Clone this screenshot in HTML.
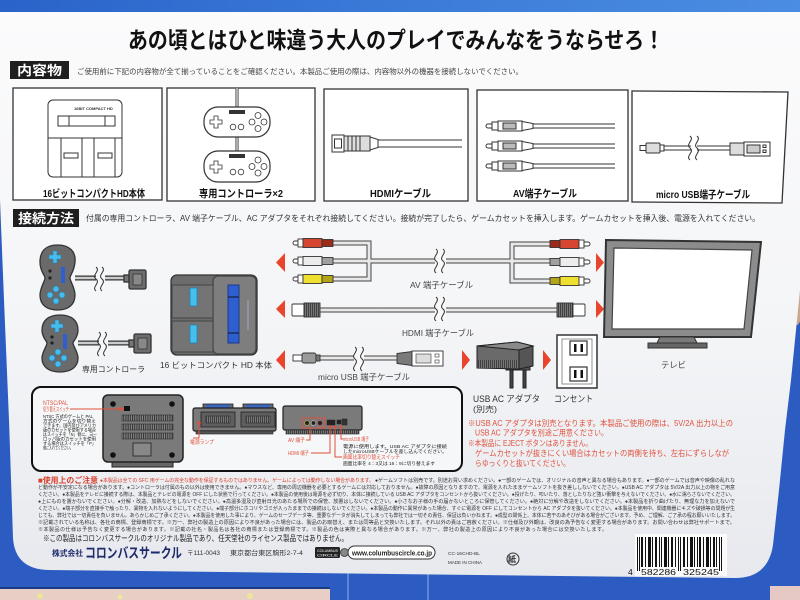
<!DOCTYPE html>
<html><head><meta charset="utf-8">
<style>
html,body{margin:0;padding:0;width:800px;height:600px;overflow:hidden;background:#2c5cc2}
svg{display:block}
svg text{font-family:"Liberation Sans","Noto Sans CJK JP",sans-serif}
</style></head>
<body>
<svg width="800" height="600" viewBox="0 0 800 600" xmlns="http://www.w3.org/2000/svg">
<defs>
<linearGradient id="topg" x1="0" y1="0" x2="1" y2="0"><stop offset="0" stop-color="#2a63c9"/><stop offset="0.5" stop-color="#3b7bd8"/><stop offset="1" stop-color="#4b8de2"/></linearGradient>
<linearGradient id="pg" x1="0" y1="0" x2="0" y2="1"><stop offset="0" stop-color="#fbfbfc"/><stop offset="0.55" stop-color="#f4f5f7"/><stop offset="1" stop-color="#e7e9ee"/></linearGradient>
<pattern id="vent" width="2.2" height="8" patternUnits="userSpaceOnUse"><rect width="2.2" height="8" fill="#8a8a8a"/><rect width="1.1" height="8" fill="#333"/></pattern>
<pattern id="rib" width="2" height="8" patternUnits="userSpaceOnUse"><rect width="2" height="8" fill="#777"/><rect width="0.8" height="8" fill="#333"/></pattern>
</defs>

<!-- background / box -->
<rect width="800" height="600" fill="#2c5cc2"/>
<rect x="0" y="588" width="330" height="12" fill="#e8cfc6"/>
<rect x="0" y="587" width="330" height="2" fill="#1c3b84"/>
<circle cx="40" cy="596" r="3" fill="#efe39a"/><circle cx="120" cy="597" r="2.5" fill="#f1e6a0"/><circle cx="250" cy="596" r="3" fill="#efe39a"/>
<line x1="348" y1="572" x2="348" y2="600" stroke="#8fb0ea" stroke-width="1"/>
<line x1="428" y1="574" x2="428" y2="600" stroke="#8fb0ea" stroke-width="1"/>
<rect x="770" y="586" width="30" height="14" fill="#e6c8c4"/>
<ellipse cx="797" cy="305" rx="5" ry="20" fill="#c9a98e"/>
<rect x="0" y="0" width="800" height="12" fill="url(#topg)"/>
<path d="M0,12 H800 V290 L791,380 L785,430 L779,490 L773,545 Q768,578 735,578 L48,570 Q15,569 13,538 L9,420 L4,300 L0,200 Z" fill="url(#pg)"/>

<!-- Title -->
<text x="128" y="48" font-size="23" font-weight="700" fill="#111" textLength="536" lengthAdjust="spacingAndGlyphs">あの頃とはひと味違う大人のプレイでみんなをうならせろ！</text>

<!-- 内容物 -->
<rect x="10" y="61" width="59" height="18" fill="#1f1f1f"/>
<text x="17" y="75" font-size="13" font-weight="700" fill="#fff" textLength="45" lengthAdjust="spacingAndGlyphs">内容物</text>
<text x="77" y="74" font-size="7.5" fill="#444" textLength="446" lengthAdjust="spacingAndGlyphs">ご使用前に下記の内容物が全て揃っていることをご確認ください。本製品ご使用の際は、内容物以外の機器を接続しないでください。</text>

<g fill="#fff" stroke="#333" stroke-width="1.3">
<rect x="13" y="88" width="149" height="112"/>
<rect x="167" y="88" width="148" height="113"/>
<rect x="324" y="89" width="144" height="112"/>
<rect x="477" y="90" width="151" height="111"/>
<polygon points="632,91 788,92 782,203 632,202"/>
</g>

<!-- Box1 console -->
<g stroke="#333" stroke-width="1" fill="none">
<rect x="48" y="100" width="74" height="77" rx="5" fill="#fff"/>
<rect x="58" y="116" width="57" height="10"/>
<line x1="69" y1="116" x2="69" y2="126"/><line x1="105" y1="116" x2="105" y2="126"/>
<line x1="48" y1="138" x2="122" y2="138"/>
<line x1="61" y1="138" x2="61" y2="177"/><line x1="82" y1="138" x2="82" y2="177"/>
<line x1="94" y1="138" x2="94" y2="177"/><line x1="115" y1="138" x2="115" y2="177"/>
<rect x="64" y="153" width="14" height="5"/><rect x="98" y="153" width="14" height="5"/>
</g>
<text x="74" y="110" font-size="4" font-weight="700" fill="#333">16BIT COMPACT HD</text>

<!-- Box2 controllers -->
<g stroke="#333" fill="#fff">
<line x1="237" y1="88" x2="237" y2="151" stroke-width="3"/>
<line x1="237" y1="88" x2="237" y2="151" stroke="#fff" stroke-width="1.2"/>
<rect x="204" y="107" width="66" height="30" rx="14" stroke-width="1.2"/>
<path d="M214,116 h4 v4 h4 v4 h-4 v4 h-4 v-4 h-4 v-4 h4 z" stroke-width="0.8"/>
<rect x="229" y="110" width="16" height="4" fill="#333" stroke="none"/>
<circle cx="233" cy="127" r="2.8" stroke-width="0.8"/><circle cx="241" cy="127" r="2.8" stroke-width="0.8"/>
<circle cx="258" cy="115.5" r="3" stroke-width="0.8"/><circle cx="252" cy="122" r="3" stroke-width="0.8"/><circle cx="264" cy="122" r="3" stroke-width="0.8"/><circle cx="258" cy="128.5" r="3" stroke-width="0.8"/>
<rect x="204" y="151" width="66" height="31" rx="14" stroke-width="1.2"/>
<path d="M214,161 h4 v4 h4 v4 h-4 v4 h-4 v-4 h-4 v-4 h4 z" stroke-width="0.8"/>
<rect x="229" y="154" width="16" height="4" fill="#333" stroke="none"/>
<circle cx="233" cy="172" r="2.8" stroke-width="0.8"/><circle cx="241" cy="172" r="2.8" stroke-width="0.8"/>
<circle cx="258" cy="160" r="3" stroke-width="0.8"/><circle cx="252" cy="166.5" r="3" stroke-width="0.8"/><circle cx="264" cy="166.5" r="3" stroke-width="0.8"/><circle cx="258" cy="173" r="3" stroke-width="0.8"/>
</g>

<!-- Box3 HDMI -->
<g stroke="#333" fill="#fff" stroke-width="1">
<line x1="378" y1="140" x2="462" y2="140"/><line x1="378" y1="147" x2="462" y2="147"/>
<rect x="332" y="135" width="12" height="17"/>
<rect x="334.5" y="139" width="7" height="9"/>
<rect x="344" y="136" width="26" height="15" fill="#ddd"/>
<line x1="348" y1="136" x2="348" y2="151"/><line x1="352" y1="136" x2="352" y2="151"/><line x1="356" y1="136" x2="356" y2="151"/><line x1="360" y1="136" x2="360" y2="151"/>
<polygon points="370,137 378,139.5 378,147.5 370,150"/>
</g>

<!-- Box4 RCA -->
<g stroke="#333" fill="#fff" stroke-width="1">
<line x1="533" y1="124" x2="615" y2="124"/><line x1="533" y1="128" x2="615" y2="128"/>
<line x1="533" y1="144" x2="615" y2="144"/><line x1="533" y1="148" x2="615" y2="148"/>
<line x1="533" y1="164" x2="615" y2="164"/><line x1="533" y1="168" x2="615" y2="168"/>
<path d="M492,124 h-4 a2,2 0 0 0 0,4 h4 z"/><rect x="492" y="122" width="6" height="8"/><rect x="498" y="121" width="24" height="10"/><rect x="503" y="123" width="13" height="6" fill="#bbb"/><polygon points="522,121.5 533,123.5 533,128.5 522,130.5"/>
<path d="M492,144 h-4 a2,2 0 0 0 0,4 h4 z"/><rect x="492" y="142" width="6" height="8"/><rect x="498" y="141" width="24" height="10"/><rect x="503" y="143" width="13" height="6" fill="#bbb"/><polygon points="522,141.5 533,143.5 533,148.5 522,150.5"/>
<path d="M492,164 h-4 a2,2 0 0 0 0,4 h4 z"/><rect x="492" y="162" width="6" height="8"/><rect x="498" y="161" width="24" height="10"/><rect x="503" y="163" width="13" height="6" fill="#bbb"/><polygon points="522,161.5 533,163.5 533,168.5 522,170.5"/>
</g>

<!-- Box5 micro USB -->
<g stroke="#333" fill="#fff" stroke-width="1">
<line x1="664" y1="146" x2="691" y2="146"/><line x1="664" y1="150" x2="691" y2="150"/>
<line x1="697" y1="146" x2="730" y2="146"/><line x1="697" y1="150" x2="730" y2="150"/>
<path d="M690,136 c5,4 -5,8 0,12 c5,4 -5,8 0,12" fill="none"/>
<path d="M697,136 c5,4 -5,8 0,12 c5,4 -5,8 0,12" fill="none"/>
<rect x="640" y="145.5" width="6" height="5"/>
<rect x="646" y="143" width="14" height="10" rx="1" fill="#ddd"/>
<rect x="660" y="145" width="4" height="6"/>
<rect x="730" y="143" width="14" height="12" fill="#ddd"/>
<rect x="744" y="142" width="26" height="14"/>
<rect x="747" y="145" width="13" height="8" fill="#ccc"/>
<rect x="763" y="145" width="3" height="2.5"/><rect x="763" y="150" width="3" height="2.5"/>
</g>

<!-- item labels -->
<g font-size="10.5" font-weight="700" fill="#111">
<text x="43" y="197" textLength="102" lengthAdjust="spacingAndGlyphs">16ビットコンパクトHD本体</text>
<text x="199" y="197" textLength="84" lengthAdjust="spacingAndGlyphs">専用コントローラ×2</text>
<text x="370" y="197" textLength="61" lengthAdjust="spacingAndGlyphs">HDMIケーブル</text>
<text x="513" y="197" textLength="64" lengthAdjust="spacingAndGlyphs">AV端子ケーブル</text>
<text x="656" y="198" textLength="94" lengthAdjust="spacingAndGlyphs">micro USB端子ケーブル</text>
</g>

<!-- 接続方法 -->
<rect x="13" y="209" width="66" height="18" fill="#1f1f1f"/>
<text x="18" y="223" font-size="13" font-weight="700" fill="#fff" textLength="56" lengthAdjust="spacingAndGlyphs">接続方法</text>
<text x="86" y="221" font-size="8" fill="#333" textLength="674" lengthAdjust="spacingAndGlyphs">付属の専用コントローラ、AV 端子ケーブル、AC アダプタをそれぞれ接続してください。接続が完了したら、ゲームカセットを挿入します。ゲームカセットを挿入後、電源を入れてください。</text>

<!-- Controllers (connection) -->
<g stroke="#333" stroke-width="1.3">
<path d="M75,278 H128 M78,343 H133" stroke="#333" stroke-width="5" fill="none"/>
<path d="M75,278 H128 M78,343 H133" stroke="#ccc" stroke-width="2.5" fill="none"/>
<rect x="96" y="266" width="9" height="24" fill="#f6f7f9" stroke="none"/>
<rect x="99" y="331" width="9" height="24" fill="#f6f7f9" stroke="none"/>
<path d="M96,267 c5,4 -5,8 0,12 c5,4 -5,8 0,12 M102,267 c5,4 -5,8 0,12 c5,4 -5,8 0,12" fill="none" stroke-width="1"/>
<path d="M99,332 c5,4 -5,8 0,12 c5,4 -5,8 0,12 M105,332 c5,4 -5,8 0,12 c5,4 -5,8 0,12" fill="none" stroke-width="1"/>
<rect x="124" y="275" width="6" height="7" fill="#777"/>
<rect x="129" y="270" width="17" height="19" rx="1.5" fill="#6d6d6d"/>
<rect x="133" y="274" width="9" height="11" fill="#888" stroke-width="0.8"/>
<rect x="129" y="340" width="6" height="7" fill="#777"/>
<rect x="134" y="334" width="17" height="19" rx="1.5" fill="#6d6d6d"/>
<rect x="138" y="338" width="9" height="11" fill="#888" stroke-width="0.8"/>
<path d="M57.5,245 C70,245 76,252 75,262 C74,272 70,275 70,278 C70,281 75,288 75,295 C75,305 68,310 57.5,310 C47,310 40,305 40,295 C40,288 45,281 45,278 C45,275 40,272 40,262 C40,252 45,245 57.5,245 Z" fill="#6a6a6a"/>
<path d="M60,315 C72,315 78,321 78,330 C78,338 73,341 73,343 C73,346 78,352 78,358 C78,367 71,372 60,372 C49,372 42,367 42,358 C42,352 47,346 47,343 C47,341 42,338 42,330 C42,321 48,315 60,315 Z" fill="#6a6a6a"/>
</g>
<g fill="#44bdee" stroke="#2a7fb0" stroke-width="0.6">
<path d="M53,251 h4 v4 h4 v4 h-4 v4 h-4 v-4 h-4 v-4 h4 z"/>
<circle cx="56" cy="289" r="3"/><circle cx="50" cy="295" r="3"/><circle cx="62" cy="295" r="3"/><circle cx="56" cy="301" r="3"/>
<path d="M55,320 h4 v4 h4 v4 h-4 v4 h-4 v-4 h-4 v-4 h4 z"/>
<circle cx="58" cy="352" r="3"/><circle cx="52" cy="358" r="3"/><circle cx="64" cy="358" r="3"/><circle cx="58" cy="364" r="3"/>
</g>
<g fill="#222">
<circle cx="50" cy="271" r="1.6"/><circle cx="50" cy="278" r="1.6"/><rect x="61" y="267" width="4" height="16" fill="#2f5fcf"/>
<circle cx="52" cy="337" r="1.6"/><circle cx="52" cy="343" r="1.6"/><rect x="63" y="334" width="4" height="15" fill="#2f5fcf"/>
</g>
<text x="82" y="372" font-size="8" fill="#333" textLength="63" lengthAdjust="spacingAndGlyphs">専用コントローラ</text>

<!-- Main console -->
<g stroke="#333" stroke-width="1.3">
<rect x="171" y="275" width="86" height="80" rx="6" fill="#6c6c6c"/>
<rect x="213" y="276" width="43" height="78" rx="5" fill="#7e7e7e" stroke="#444"/>
<rect x="172" y="285" width="41" height="33" fill="#747474" stroke="#444" stroke-width="1"/>
<rect x="172" y="321" width="41" height="31" fill="#747474" stroke="#444" stroke-width="1"/>
<rect x="190" y="288" width="7" height="18" fill="#45c0ee" stroke="#2a7fb0" stroke-width="0.8"/>
<rect x="190" y="325" width="7" height="18" fill="#45c0ee" stroke="#2a7fb0" stroke-width="0.8"/>
<rect x="228" y="285" width="11" height="58" fill="#2f5fcf" stroke="#1a3a8a" stroke-width="1"/>
<line x1="228" y1="297" x2="239" y2="297" stroke="#1a2a60" stroke-width="1.5"/>
<line x1="228" y1="333" x2="239" y2="333" stroke="#1a2a60" stroke-width="1.5"/>
<line x1="248" y1="300" x2="248" y2="330" stroke="#99a" stroke-width="1.5"/>
</g>
<text x="160" y="368" font-size="8" fill="#333" textLength="112" lengthAdjust="spacingAndGlyphs">16 ビットコンパクト HD 本体</text>

<!-- Red arrows -->
<g fill="#e8452c">
<polygon points="285,253 285,272 276,262.5"/><polygon points="596,253 596,272 604,262.5"/>
<polygon points="285,300 285,318 276,309"/><polygon points="596,300 596,318 604,309"/>
<polygon points="285,350 285,370 276,360"/><polygon points="462,350 462,370 470,360"/>
<polygon points="543,350 543,370 551,360"/>
</g>

<!-- cables -->
<g fill="none" stroke-linejoin="miter">
<path d="M333,243 H369 V261 M333,279 H369 V261 M333,261 H550 M512,261 V244 H550 M512,261 V281 H550 M320,310 H557 M320,358 H397" stroke="#444" stroke-width="5"/>
<path d="M333,243 H369 V261 M333,279 H369 V261 M333,261 H550 M512,261 V244 H550 M512,261 V281 H550 M320,310 H557 M320,358 H397" stroke="#e8e8e8" stroke-width="3"/>
</g>
<rect x="435" y="250" width="11" height="22" fill="#f8f8f9"/>
<rect x="435" y="298" width="11" height="24" fill="#f8f8f9"/>
<rect x="354" y="348" width="10" height="22" fill="#f8f8f9"/>
<g fill="none" stroke="#333" stroke-width="1">
<path d="M436,249 c5,4 -5,8 0,12 c5,4 -5,8 0,12 M443,249 c5,4 -5,8 0,12 c5,4 -5,8 0,12"/>
<path d="M436,297 c5,4 -5,8 0,12 c5,4 -5,8 0,12 M443,297 c5,4 -5,8 0,12 c5,4 -5,8 0,12"/>
<path d="M355,347 c5,4 -5,8 0,12 c5,4 -5,8 0,12 M362,347 c5,4 -5,8 0,12 c5,4 -5,8 0,12"/>
</g>

<!-- RCA left -->
<g stroke="#333" stroke-width="0.9">
<path d="M299,241 h-4 a2,2 0 0 0 0,4 h4 z" fill="#fff"/><rect x="298" y="239" width="5" height="8" fill="#fff"/><rect x="303" y="238.5" width="19" height="9" fill="#d54530"/><rect x="322" y="239.5" width="11" height="7" fill="#9e2a1a"/>
<path d="M299,259 h-4 a2,2 0 0 0 0,4 h4 z" fill="#fff"/><rect x="298" y="257" width="5" height="8" fill="#fff"/><rect x="303" y="256.5" width="19" height="9" fill="#ececec"/><rect x="322" y="257.5" width="11" height="7" fill="#a0a0a0"/>
<path d="M299,277 h-4 a2,2 0 0 0 0,4 h4 z" fill="#fff"/><rect x="298" y="275" width="5" height="8" fill="#fff"/><rect x="303" y="274.5" width="19" height="9" fill="#efe030"/><rect x="322" y="275.5" width="11" height="7" fill="#b4a418"/>
<!-- RCA right -->
<rect x="550" y="240.5" width="10" height="7" fill="#9e2a1a"/><rect x="560" y="239.5" width="19" height="9" fill="#d54530"/><rect x="579" y="240" width="5" height="8" fill="#fff"/><path d="M584,242 h4 a2,2 0 0 1 0,4 h-4 z" fill="#fff"/>
<rect x="550" y="258.5" width="10" height="7" fill="#a0a0a0"/><rect x="560" y="257.5" width="19" height="9" fill="#ececec"/><rect x="579" y="258" width="5" height="8" fill="#fff"/><path d="M584,260 h4 a2,2 0 0 1 0,4 h-4 z" fill="#fff"/>
<rect x="550" y="277.5" width="10" height="7" fill="#b4a418"/><rect x="560" y="276.5" width="19" height="9" fill="#efe030"/><rect x="579" y="277" width="5" height="8" fill="#fff"/><path d="M584,279 h4 a2,2 0 0 1 0,4 h-4 z" fill="#fff"/>
<!-- HDMI -->
<rect x="292" y="304" width="12" height="12" rx="1" fill="#fff"/><rect x="304" y="303" width="16" height="14" fill="url(#rib)"/>
<rect x="557" y="303" width="16" height="14" fill="url(#rib)"/><rect x="573" y="304" width="12" height="12" rx="1" fill="#fff"/>
<!-- micro usb -->
<rect x="293" y="355" width="9" height="6" fill="#fff"/><rect x="302" y="353" width="14" height="10" rx="2" fill="#9a9a9a"/><rect x="316" y="355" width="4" height="6" fill="#777"/>
<!-- usb A -->
<polygon points="397,353.5 412,351.5 412,365.5 397,363.5" fill="#7a7a7a"/>
<rect x="412" y="351" width="31" height="15" fill="#fff"/>
<rect x="416" y="354" width="15" height="9" fill="#ddd" stroke-width="0.6"/>
<rect x="435" y="354" width="4" height="3" fill="#fff" stroke-width="0.6"/><rect x="435" y="360" width="4" height="3" fill="#fff" stroke-width="0.6"/>
</g>
<text x="410" y="288" font-size="8.5" fill="#444" textLength="63" lengthAdjust="spacingAndGlyphs">AV 端子ケーブル</text>
<text x="402" y="336" font-size="8.5" fill="#444" textLength="72" lengthAdjust="spacingAndGlyphs">HDMI 端子ケーブル</text>
<text x="318" y="380" font-size="8.5" fill="#444" textLength="92" lengthAdjust="spacingAndGlyphs">micro USB 端子ケーブル</text>

<!-- AC adapter -->
<g stroke="#222" stroke-width="1">
<rect x="510" y="366" width="3" height="22" fill="#444"/><rect x="523" y="366" width="3" height="22" fill="#444"/>
<rect x="506" y="366" width="24" height="4" fill="#555"/>
<polygon points="477,346 517,342 533,346 533,366 519,369 477,368" fill="#6a6a6a"/>
<polygon points="477,346 517,342 533,346 519,350" fill="#8a8a8a"/>
<polygon points="519,350 533,346 533,366 519,369" fill="#555"/>
<rect x="478" y="360" width="41" height="8" fill="url(#rib)" stroke="none"/>
</g>
<!-- outlet -->
<g stroke="#333">
<rect x="557" y="335" width="40" height="53" fill="#fff" stroke-width="1.5"/>
<rect x="562" y="339" width="30" height="45" fill="#fff" stroke="#777" stroke-width="0.8"/>
<rect x="570" y="341" width="17" height="14" fill="#fff" stroke-width="1.2"/>
<rect x="570" y="367" width="17" height="14" fill="#fff" stroke-width="1.2"/>
</g>
<g fill="#111">
<rect x="574" y="344" width="2.5" height="8"/><rect x="580.5" y="344" width="2.5" height="8"/>
<rect x="574" y="370" width="2.5" height="8"/><rect x="580.5" y="370" width="2.5" height="8"/>
</g>

<!-- TV -->
<polygon points="606,240 761,242 751,337 604,337" fill="#8c8c8c" stroke="#333" stroke-width="2"/>
<polygon points="614,248 752,250 744,329 612,329" fill="#fff" stroke="#444" stroke-width="1.2"/>
<polygon points="660,337 694,337 697,343 657,343" fill="#7a7a7a" stroke="#333"/>
<rect x="648" y="343" width="59" height="5" fill="#666" stroke="#333"/>
<text x="661" y="368" font-size="8.5" fill="#444" textLength="25" lengthAdjust="spacingAndGlyphs">テレビ</text>

<!-- labels adapter -->
<text x="473" y="402" font-size="9" fill="#333" textLength="67" lengthAdjust="spacingAndGlyphs">USB AC アダプタ</text>
<text x="473" y="412" font-size="8" fill="#333" textLength="24" lengthAdjust="spacingAndGlyphs">(別売)</text>
<text x="554" y="402" font-size="9" fill="#333" textLength="39" lengthAdjust="spacingAndGlyphs">コンセント</text>

<g font-size="8" fill="#e0503c">
<text x="468" y="426" textLength="265" lengthAdjust="spacingAndGlyphs">※USB AC アダプタは別売となります。本製品ご使用の際は、5V/2A 出力以上の</text>
<text x="475" y="435.5" textLength="133" lengthAdjust="spacingAndGlyphs">USB AC アダプタを別途ご用意ください。</text>
<text x="468" y="446" textLength="124" lengthAdjust="spacingAndGlyphs">※本製品に EJECT ボタンはありません。</text>
<text x="475" y="456" textLength="254" lengthAdjust="spacingAndGlyphs">ゲームカセットが抜きにくい場合はカセットの両側を持ち、左右にずらしなが</text>
<text x="475" y="466" textLength="95" lengthAdjust="spacingAndGlyphs">らゆっくりと抜いてください。</text>
</g>

<!-- Bottom detail box -->
<rect x="32" y="387" width="430" height="84" rx="9" fill="#f6f7f8" stroke="#111" stroke-width="2"/>
<!-- back console -->
<g stroke="#222">
<rect x="112" y="460" width="61" height="7" fill="#666" stroke-width="1"/>
<rect x="103" y="395" width="80" height="67" rx="5" fill="#7a7a7a" stroke-width="1.5"/>
<rect x="122" y="415" width="51" height="6" fill="url(#vent)" stroke-width="0.5"/>
<rect x="122" y="424" width="51" height="6" fill="url(#vent)" stroke-width="0.5"/>
<rect x="122" y="433" width="51" height="6" fill="url(#vent)" stroke-width="0.5"/>
<rect x="133" y="443" width="18" height="13" fill="#888" stroke-width="0.8"/>
</g>
<g fill="#111"><circle cx="113" cy="404" r="2.8"/><circle cx="172" cy="404" r="2.8"/><circle cx="113" cy="455" r="2.8"/><circle cx="172" cy="455" r="2.8"/><rect x="124" y="406" width="6" height="5"/></g>
<line x1="70" y1="409" x2="121" y2="409" stroke="#e0503c" stroke-width="1"/><circle cx="121" cy="409" r="2" fill="#e0503c"/>
<text x="43" y="405" font-size="6" fill="#e0503c" textLength="25" lengthAdjust="spacingAndGlyphs">NTSC/PAL</text>
<text x="43" y="411.5" font-size="6" fill="#e0503c" textLength="26" lengthAdjust="spacingAndGlyphs">切り替えスイッチ</text>
<g font-size="4.5" fill="#222">
<text x="43" y="418" textLength="50" lengthAdjust="spacingAndGlyphs">NTSC 方式のゲームと PAL</text>
<text x="43" y="422.5" textLength="53" lengthAdjust="spacingAndGlyphs">方式のゲームを切り替え</text>
<text x="43" y="427" textLength="53" lengthAdjust="spacingAndGlyphs">できます。国内及びアメリカ</text>
<text x="43" y="431.5" textLength="53" lengthAdjust="spacingAndGlyphs">版のカセットを使用する場合</text>
<text x="43" y="436" textLength="54" lengthAdjust="spacingAndGlyphs">はスイッチを「N」側に、ヨー</text>
<text x="43" y="440.5" textLength="53" lengthAdjust="spacingAndGlyphs">ロッパ版のカセットを使用</text>
<text x="43" y="445" textLength="53" lengthAdjust="spacingAndGlyphs">する場合はスイッチを「P」</text>
<text x="43" y="449.5" textLength="30" lengthAdjust="spacingAndGlyphs">側に入れてください。</text>
</g>
<!-- front console -->
<g stroke="#222">
<rect x="203" y="404" width="30" height="6" fill="#6a6a6a" stroke-width="0.8"/>
<rect x="243" y="404" width="30" height="6" fill="#6a6a6a" stroke-width="0.8"/>
<rect x="206" y="404.5" width="24" height="3" fill="#3a66c0" stroke="none"/>
<rect x="246" y="404.5" width="24" height="3" fill="#3a66c0" stroke="none"/>
<rect x="193" y="408" width="83" height="23" rx="2" fill="#7a7a7a" stroke-width="1.2"/>
<rect x="201" y="412" width="34" height="15" fill="#5e5e5e" stroke-width="0.8"/>
<rect x="241" y="412" width="34" height="15" fill="#5e5e5e" stroke-width="0.8"/>
<rect x="206" y="416" width="24" height="7" fill="url(#rib)" stroke-width="0.5"/>
<rect x="246" y="416" width="24" height="7" fill="url(#rib)" stroke-width="0.5"/>
<rect x="196" y="431" width="77" height="3" fill="#555" stroke-width="0.6"/>
</g>
<circle cx="199" cy="423" r="1.8" fill="#e0503c"/>
<polyline points="199,423 199,438 193,438" fill="none" stroke="#e0503c" stroke-width="1"/>
<text x="190" y="444" font-size="5.5" fill="#e0503c" textLength="24" lengthAdjust="spacingAndGlyphs">電源ランプ</text>
<!-- rear panel console -->
<g stroke="#222">
<rect x="283" y="406" width="79" height="24" rx="2" fill="#7a7a7a" stroke-width="1.2"/>
<rect x="286" y="430" width="73" height="4" fill="url(#rib)" stroke-width="0.6"/>
<rect x="302" y="418" width="23" height="10" fill="none" stroke="#e0503c" stroke-width="1"/>
<circle cx="307" cy="423" r="2.3" fill="#222" stroke="#c9b030" stroke-width="0.6"/>
<circle cx="313.5" cy="423" r="2.3" fill="#222" stroke="#ccc" stroke-width="0.6"/>
<circle cx="320" cy="423" r="2.3" fill="#222" stroke="#c44" stroke-width="0.6"/>
<rect x="327" y="420" width="8" height="5" fill="#222" stroke-width="0.5"/>
<rect x="337" y="420" width="4" height="4" fill="#222" stroke-width="0.5"/>
<rect x="342" y="419" width="5" height="6" fill="#333" stroke-width="0.5"/>
</g>
<g fill="#e0503c"><circle cx="330" cy="427" r="1.5"/><circle cx="335" cy="427" r="1.5"/><circle cx="341" cy="427" r="1.5"/></g>
<g fill="none" stroke="#e0503c" stroke-width="1">
<polyline points="306,440 310,440 310,428"/>
<polyline points="311,453 330,453 330,427"/>
<polyline points="342,457 335,457 335,427"/>
<polyline points="341,427 341,439 343,439"/>
</g>
<g font-size="5.5" fill="#e0503c">
<text x="288" y="442" textLength="17" lengthAdjust="spacingAndGlyphs">AV 端子</text>
<text x="288" y="455" textLength="21" lengthAdjust="spacingAndGlyphs">HDMI 端子</text>
<text x="343" y="441" textLength="26" lengthAdjust="spacingAndGlyphs">microUSB 端子</text>
<text x="343" y="459" textLength="57" lengthAdjust="spacingAndGlyphs">画面比率切り替えスイッチ</text>
</g>
<g font-size="4.8" fill="#222">
<text x="343" y="448" textLength="104" lengthAdjust="spacingAndGlyphs">電源に使用します。USB AC アダプタに接続</text>
<text x="343" y="453" textLength="104" lengthAdjust="spacingAndGlyphs">したmicroUSBケーブルを差し込んでください。</text>
<text x="343" y="465" textLength="92" lengthAdjust="spacingAndGlyphs">画面比率を 4：3又は 16：9に切り替えます</text>
</g>

<!-- caution -->
<text x="38" y="483" font-size="8" font-weight="700" fill="#d8402c" textLength="60" lengthAdjust="spacingAndGlyphs">■使用上のご注意</text>
<text x="100" y="482" font-size="5" fill="#d8402c" textLength="274" lengthAdjust="spacingAndGlyphs">●本製品は全ての SFC 用ゲームの完全な動作を保証するものではありません。ゲームによっては動作しない場合があります。</text>
<g font-size="5" fill="#333">
<text x="375" y="482" textLength="360" lengthAdjust="spacingAndGlyphs">●ゲームソフトは別売です。別途お買い求めください。●一部のゲームでは、オリジナルの音声と異なる場合もあります。●一部のゲームでは音声や映像の乱れな</text>
<text x="38" y="489" textLength="697" lengthAdjust="spacingAndGlyphs">ど動作が不安定になる場合があります。●コントローラは付属のもの以外は使用できません。●マウスなど、専用の周辺機器を必要とするゲームには対応しておりません。●故障の原因となりますので、電源を入れたままゲームソフトを抜き差ししないでください。●USB AC アダプタは 5V/2A 出力以上の物をご用意</text>
<text x="38" y="496" textLength="697" lengthAdjust="spacingAndGlyphs">ください。●本製品をテレビに接続する際は、本製品とテレビの電源を OFF にした状態で行ってください。●本製品の使用後は電源を必ず切り、本体に接続している USB AC アダプタをコンセントから抜いてください。●投げたり、叩いたり、落としたりなど強い衝撃を与えないでください。●水に濡らさないでください。</text>
<text x="38" y="503" textLength="697" lengthAdjust="spacingAndGlyphs">●上にものを置かないでください。●分解・改造、加熱などをしないでください。●高温多湿及び直射日光のあたる場所での保管、放置はしないでください。●小さなお子様の手の届かないところに保管してください。●絶対に分解や改造をしないでください。●本製品を折り曲げたり、無理な力を加えないで</text>
<text x="38" y="510" textLength="697" lengthAdjust="spacingAndGlyphs">ください。●端子部分を直接手で触ったり、異物を入れないようにしてください。●端子部分にホコリやゴミが入ったままでの接続はしないでください。●本製品の動作に異常があった場合、すぐに電源を OFF にしてコンセントから AC アダプタを抜いてください。●本製品を使用中、関連機器にキズや破損等の問題が生</text>
<text x="38" y="517" textLength="697" lengthAdjust="spacingAndGlyphs">じても、弊社では一切責任を負いません。あらかじめご了承ください。●本製品を使用した事により、ゲームのセーブデータ等、重要なデータが消失してしまっても弊社では一切その責任、保証は負いかねます。●成型の関係上、本体に若干のあそびがある場合がございます。予め、ご理解、ご了承の程お願いいたします。</text>
<text x="38" y="524" textLength="697" lengthAdjust="spacingAndGlyphs">※記載されている名称は、各社の商標、登録商標です。※万一、弊社の製造上の原因により不良があった場合には、製品のお取替え、または同等品と交換いたします。それ以外の責はご容赦ください。※仕様及び外観は、改良の為予告なく変更する場合があります。お問い合わせは弊社サポートまで。</text>
<text x="38" y="531" textLength="569" lengthAdjust="spacing">※本製品の仕様は予告なく変更する場合があります。※記載の社名・製品名は各社の商標または登録商標です。※製品の色は実際と異なる場合があります。※万一、弊社の製造上の原因により不良があった場合には交換いたします。</text>
</g>
<text x="43" y="541" font-size="8" fill="#222" textLength="305" lengthAdjust="spacingAndGlyphs">※この製品はコロンバスサークルのオリジナル製品であり、任天堂社のライセンス製品ではありません。</text>

<!-- company row -->
<text x="52" y="556" font-size="8" font-weight="700" fill="#1d2a6b" textLength="31" lengthAdjust="spacingAndGlyphs">株式会社</text>
<text x="85" y="558" font-size="14" font-weight="700" fill="#1d2a6b" textLength="97" lengthAdjust="spacingAndGlyphs">コロンバスサークル</text>
<text x="187" y="555" font-size="6.5" fill="#333" textLength="33" lengthAdjust="spacingAndGlyphs">〒111-0043</text>
<text x="230" y="555" font-size="6.5" fill="#333" textLength="73" lengthAdjust="spacingAndGlyphs">東京都台東区駒形2-7-4</text>
<rect x="315" y="547" width="25" height="11" rx="1.5" fill="#222"/>
<text x="317" y="552" font-size="3.5" fill="#fff" textLength="21" lengthAdjust="spacingAndGlyphs">COLUMBUS</text>
<text x="317" y="556.5" font-size="3.5" fill="#fff" textLength="21" lengthAdjust="spacingAndGlyphs">CIRCLE</text>
<circle cx="344.5" cy="552.5" r="4" fill="#888" stroke="#333" stroke-width="0.8"/>
<rect x="348" y="546" width="87" height="13" rx="6.5" fill="#fff" stroke="#333" stroke-width="1"/>
<text x="352" y="555.5" font-size="7.5" font-weight="700" fill="#222" textLength="80" lengthAdjust="spacingAndGlyphs">www.columbuscircle.co.jp</text>
<text x="448" y="555" font-size="4.5" fill="#333" textLength="32" lengthAdjust="spacingAndGlyphs">CC-16CHD-BL</text>
<text x="448" y="564" font-size="4.5" fill="#333" textLength="34" lengthAdjust="spacingAndGlyphs">MADE IN CHINA</text>
<circle cx="513" cy="559" r="6" fill="none" stroke="#333" stroke-width="1"/>
<text x="508" y="562" font-size="8" font-weight="700" fill="#333">紙</text>

<!-- barcode -->
<rect x="635" y="534" width="92" height="42" fill="#fafafa"/>
<g fill="#111">
<rect x="637" y="537" width="1" height="34"/><rect x="639" y="537" width="1" height="34"/>
<rect x="641" y="537" width="2" height="30"/><rect x="645" y="537" width="1" height="30"/><rect x="648" y="537" width="3" height="30"/><rect x="652" y="537" width="1" height="30"/><rect x="655" y="537" width="2" height="30"/><rect x="659" y="537" width="1" height="30"/><rect x="661" y="537" width="1" height="30"/><rect x="664" y="537" width="3" height="30"/><rect x="668" y="537" width="1" height="30"/><rect x="671" y="537" width="2" height="30"/><rect x="675" y="537" width="1" height="30"/>
<rect x="678" y="537" width="1" height="34"/><rect x="680" y="537" width="1" height="34"/>
<rect x="683" y="537" width="2" height="30"/><rect x="687" y="537" width="1" height="30"/><rect x="690" y="537" width="3" height="30"/><rect x="694" y="537" width="1" height="30"/><rect x="697" y="537" width="1" height="30"/><rect x="699" y="537" width="2" height="30"/><rect x="703" y="537" width="1" height="30"/><rect x="706" y="537" width="3" height="30"/><rect x="710" y="537" width="1" height="30"/><rect x="713" y="537" width="2" height="30"/><rect x="716" y="537" width="1" height="30"/>
<rect x="719" y="537" width="1" height="34"/><rect x="721" y="537" width="1" height="34"/>
</g>
<g font-size="8.5" fill="#111">
<text x="628" y="575">4</text>
<text x="641" y="575" textLength="35" lengthAdjust="spacingAndGlyphs">582286</text>
<text x="683" y="575" textLength="36" lengthAdjust="spacingAndGlyphs">325245</text>
</g>
</svg>
</body></html>
